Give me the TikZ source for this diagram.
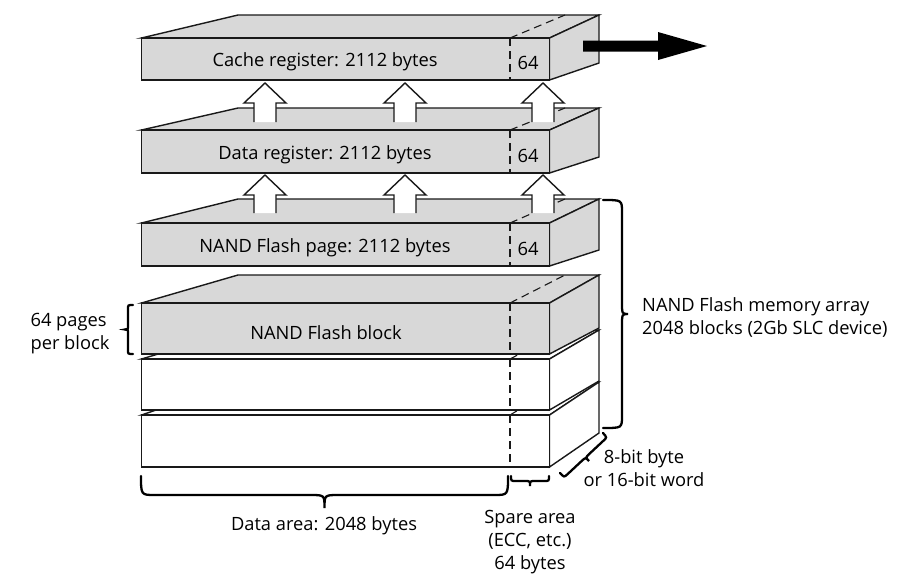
\documentclass[tikz,border=0pt]{standalone}
\usepackage{fontspec}
\setmainfont{Open Sans}
\definecolor{slabgray}{RGB}{216,216,216}
\tikzset{
  boxline/.style={line width=1.4pt, draw=black!90, line join=miter},
  dashline/.style={line width=1.1pt, draw=black!90, dash pattern=on 8pt off 5pt},
  bracestyle/.style={line width=2.3pt, draw=black, line cap=round},
  txt/.style={inner sep=0pt, font=\fontsize{18.3}{23}\selectfont, text=black},
}
\newcommand\SlabBox[5]{%
  \filldraw[boxline,fill=#1] (141.5,-#2) -- (238,-#4) -- (599,-#4) -- (549.5,-#2) -- cycle;
  \filldraw[boxline,fill=#1] (549.5,-#2) -- (599,-#4) -- (599,-#5) -- (549.5,-#3) -- cycle;
  \filldraw[boxline,fill=#1] (141.5,-#2) rectangle (549.5,-#3);
  \draw[dashline] (510,-#2) -- (510,-#3);
  \draw[dashline] (510,-#2) -- (565,-#4);
}
\newcommand\UpArr[3]{%
  \fill[white] ({#1-11},{-#2-#3}) -- ({#1-11},{-#2-20}) -- ({#1-21},{-#2-20}) -- (#1,-#2)
     -- ({#1+21},{-#2-20}) -- ({#1+11},{-#2-20}) -- ({#1+11},{-#2-#3}) -- cycle;
  \draw[boxline] ({#1-11},{-#2-#3}) -- ({#1-11},{-#2-20}) -- ({#1-21},{-#2-20}) -- (#1,-#2)
     -- ({#1+21},{-#2-20}) -- ({#1+11},{-#2-20}) -- ({#1+11},{-#2-#3});
}
% brace: x, y, angle, length, straight offset, tip offset, curl
\newcommand\Brc[7]{%
  \begin{scope}[shift={(#1,#2)},rotate=#3]
    \draw[bracestyle] (0,0) .. controls (0,-#5) .. (#7,-#5)
      -- ({#4/2-#7},-#5) .. controls ({#4/2},-#5) .. ({#4/2},-#6)
      .. controls ({#4/2},-#5) .. ({#4/2+#7},-#5)
      -- ({#4-#7},-#5) .. controls (#4,-#5) .. (#4,0);
  \end{scope}
}
\begin{document}
\begin{tikzpicture}[x=1pt,y=1pt]
\useasboundingbox (0,0) rectangle (901,-574);
\fill[white] (0,0) rectangle (901,-574);

% registers
\SlabBox{slabgray}{38}{80}{15}{63}
\SlabBox{slabgray}{130}{173}{108}{157}
\SlabBox{slabgray}{223}{266}{199}{250}

% transfer arrows
\UpArr{265}{83}{39}
\UpArr{405}{83}{39}
\UpArr{543}{83}{39}
\UpArr{265}{175}{38}
\UpArr{405}{175}{38}
\UpArr{543}{175}{38}

% output arrow
\fill[black] (583,-40.5) -- (658,-40.5) -- (658,-32) -- (707,-46) -- (658,-60) -- (658,-51.5) -- (583,-51.5) -- cycle;

% blocks
\SlabBox{white}{415}{467}{382}{433}
\SlabBox{white}{359}{410}{330}{381}
\SlabBox{slabgray}{303}{354}{275}{328}

% braces
\Brc{141}{-476}{0}{367}{19}{32}{14}
\Brc{511}{-476}{0}{38}{5}{10}{5}
\Brc{133}{-305}{-90}{49}{5}{8}{4}
\Brc{603}{-428}{90}{228}{19}{25}{12}
\Brc{560}{-473}{43}{58.7}{6}{11}{5}

% texts
\node[txt] (cache) at (325,-61.5) {Cache register: 2112 bytes};
\node[txt] (c64) at (528,-62.5) {64};
\node[txt] (data) at (325,-154.5) {Data register: 2112 bytes};
\node[txt] (d64) at (528,-155.5) {64};
\node[txt] (page) at (325,-247.5) {NAND Flash page: 2112 bytes};
\node[txt] (p64) at (528,-248.5) {64};
\node[txt] (blk) at (326,-332.5) {NAND Flash block};
\node[txt, align=left] (ppb) at (70,-334) {64 pages\\per block};
\node[txt, align=left, anchor=west] (arr) at (642,-317.5) {NAND Flash memory array\\2048 blocks (2Gb SLC device)};
\node[txt, align=center] (bw) at (644,-468.5) {8-bit byte\\or 16-bit word};
\node[txt] (da) at (324,-525.5) {Data area: 2048 bytes};
\node[txt, align=center] (sa) at (530,-542.5) {Spare area\\(ECC, etc.)\\64 bytes};
\end{tikzpicture}
\end{document}
